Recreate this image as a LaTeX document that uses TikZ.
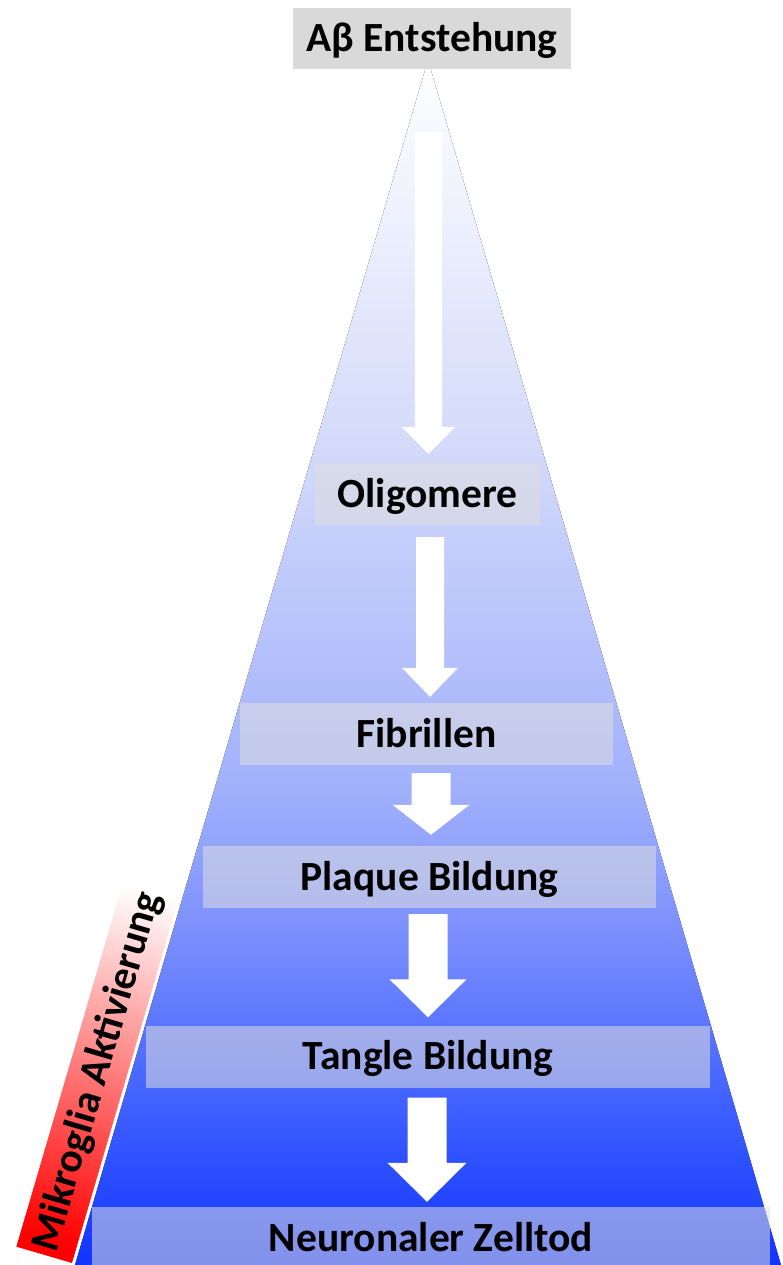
\documentclass[tikz,border=0pt]{standalone}
\usepackage{fontspec}
\setmainfont{Carlito}
\usetikzlibrary{calc}

\definecolor{pyrA}{RGB}{212,219,250}
\definecolor{pyrB}{RGB}{160,176,252}
\definecolor{pyrC}{RGB}{124,144,253}
\definecolor{pyrD}{RGB}{48,84,255}
\definecolor{pyrE}{RGB}{18,52,255}
\definecolor{boxgray}{RGB}{222,222,222}
\definecolor{topgray}{RGB}{217,217,217}

\pgfdeclareverticalshading{pyramid}{100bp}{color(0bp)=(pyrE); color(25bp)=(pyrE); color(29.8bp)=(pyrD); color(38.9bp)=(pyrC); color(44.7bp)=(pyrB); color(59.2bp)=(pyrA); color(75bp)=(white); color(100bp)=(white)}
\pgfdeclarehorizontalshading{mikroglia}{100bp}{color(0bp)=(red); color(27bp)=(red); color(70bp)=(white); color(100bp)=(white)}

\begin{document}
\begin{tikzpicture}[
    x=1pt, y=-1pt,
    label/.style={font=\bfseries\fontsize{41.5}{46}\selectfont},
    box/.style={rectangle, label, fill=boxgray, fill opacity=0.55, text opacity=1, minimum height=62pt, inner sep=0pt, text height=26pt, text depth=0pt},
    blockarrow/.style n args={3}{fill=white, to path={let \p1=(\tikztostart), \p2=(\tikztotarget) in (\x1-#1pt,\y1) -- (\x1+#1pt,\y1) -- (\x1+#1pt,\y2+#3pt) -- (\x1+#2pt,\y2+#3pt) -- (\x1,\y2) -- (\x1-#2pt,\y2+#3pt) -- (\x1-#1pt,\y2+#3pt) -- cycle}}
]
\useasboundingbox (0,0) rectangle (782,1265);
\clip (0,0) rectangle (782,1265);

\fill[shading=pyramid] (428,60) -- (781,1265) -- (75,1265) -- cycle;

\begin{scope}[transform canvas={shift={(103.2,1053.3)}, rotate=73.67}]
\node[rectangle, minimum width=420pt, minimum height=58pt, inner sep=0pt, shading=mikroglia] (mikrobar) at (0,0) {};
\node[label, inner sep=0pt] (mikrotext) at (-19,0) {Mikroglia Aktivierung};
\end{scope}

\node[box, fill=topgray, fill opacity=1, minimum width=278pt, minimum height=61pt] (entstehung) at (432,38.5) {Aβ Entstehung};
\node[box, minimum width=225pt] (oligomere) at (427.5,494) {Oligomere};
\node[box, minimum width=373pt] (fibrillen) at (426.5,734) {Fibrillen};
\node[box, minimum width=453pt] (plaque) at (429.5,877) {Plaque Bildung};
\node[box, minimum width=564pt] (tangle) at (428,1056.5) {Tangle Bildung};
\node[box, minimum width=678pt] (zelltod) at (431,1238) {Neuronaler Zelltod};

\path[blockarrow={13.5}{27}{27}] ([xshift=-3.5pt, yshift=-63pt]entstehung.south) to ([yshift=9pt]oligomere.north);
\path[blockarrow={14}{28}{29}] ([xshift=2.5pt, yshift=-12pt]oligomere.south) to ([yshift=6pt]fibrillen.north);
\path[blockarrow={19.5}{38.5}{30}] ([xshift=4.5pt, yshift=-8pt]fibrillen.south) to ([yshift=11pt]plaque.north);
\path[blockarrow={19.5}{38.5}{38}] ([xshift=-1.5pt, yshift=-6pt]plaque.south) to ([yshift=8pt]tangle.north);
\path[blockarrow={19.5}{39.5}{39}] ([xshift=-1pt, yshift=-10pt]tangle.south) to ([yshift=5pt]zelltod.north);

\end{tikzpicture}
\end{document}
